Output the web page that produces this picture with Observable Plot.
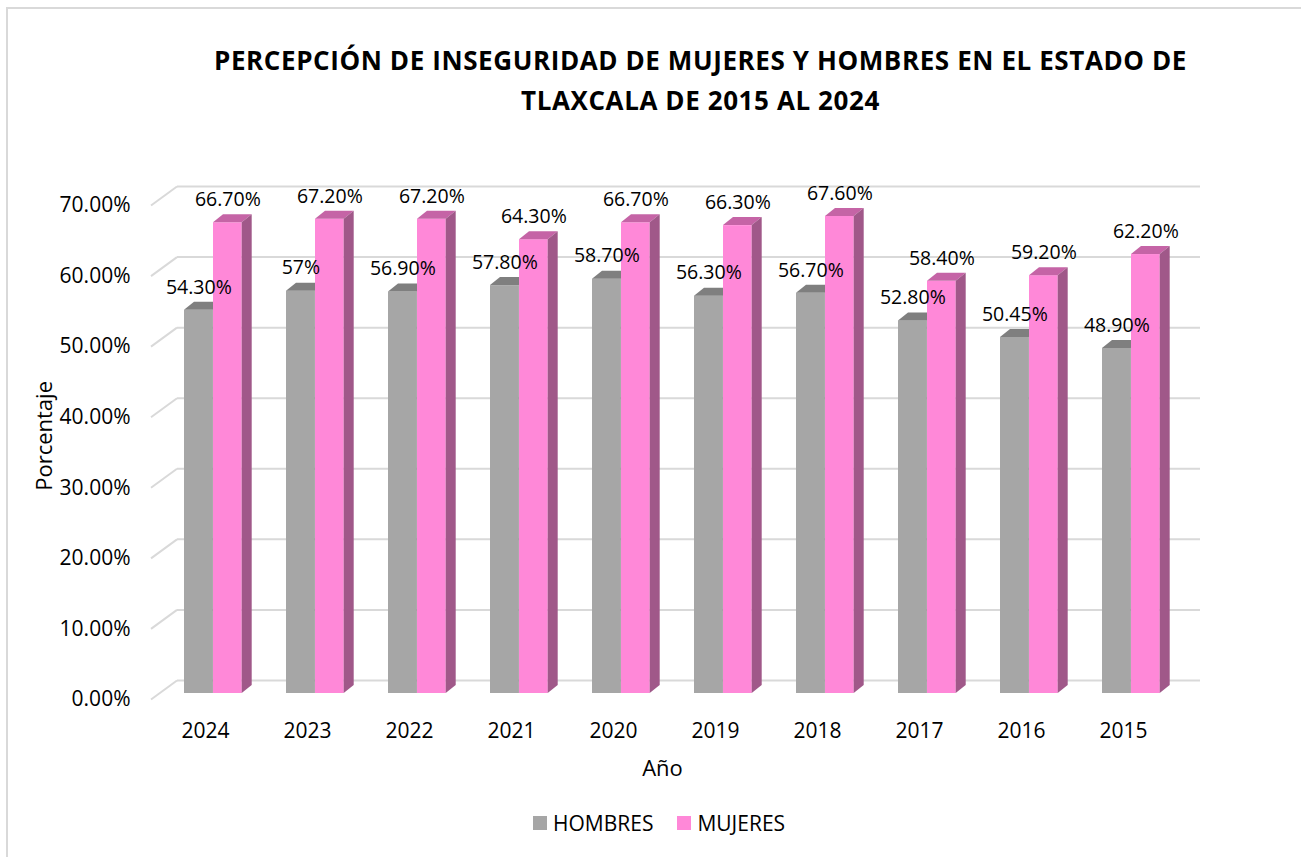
<!DOCTYPE html>
<html>
<head>
<meta charset="utf-8">
<script src="https://cdn.jsdelivr.net/npm/d3@7"></script>
<script src="https://cdn.jsdelivr.net/npm/@observablehq/plot@0.6"></script>
<style>
  body { margin: 0; background: #fff; font-family: "Open Sans", sans-serif; }
  #wrap { position: relative; width: 1301px; height: 857px; overflow: hidden; background: #fff; }
  #border { position: absolute; left: 6px; top: 7px; width: 1400px; height: 1000px; border-left: 2px solid #d9d9d9; border-top: 2px solid #d9d9d9; }
  #title { position: absolute; left: 0; width: 1401px; top: 40px; text-align: center; font-weight: bold; font-size: 26px; letter-spacing: 0.6px; line-height: 40px; color: #000; }
  #chart { position: absolute; left: 0; top: 0; }
  #legend { position: absolute; top: 809px; left: 533px; font-size: 21px; color: #000; display: flex; align-items: center; }
  #legend .sw { width: 14px; height: 14px; display: inline-block; margin-right: 6px; }
  #legend .item { display: flex; align-items: center; margin-right: 24px; }
</style>
</head>
<body>
<div id="wrap">
  <div id="border"></div>
  <div id="chart"></div>
  <div id="title">PERCEPCIÓN DE INSEGURIDAD DE MUJERES Y HOMBRES EN EL ESTADO DE<br>TLAXCALA DE 2015 AL 2024</div>
  <div id="legend"></div>
</div>
<script>
const years = ["2024","2023","2022","2021","2020","2019","2018","2017","2016","2015"];
const hombres = [0.543, 0.57, 0.569, 0.578, 0.587, 0.563, 0.567, 0.528, 0.5045, 0.489];
const mujeres = [0.667, 0.672, 0.672, 0.643, 0.667, 0.663, 0.676, 0.584, 0.592, 0.622];
const hombresLabels = ["54.30%","57%","56.90%","57.80%","58.70%","56.30%","56.70%","52.80%","50.45%","48.90%"];
const mujeresLabels = ["66.70%","67.20%","67.20%","64.30%","66.70%","66.30%","67.60%","58.40%","59.20%","62.20%"];
const yTicks = [0, 0.1, 0.2, 0.3, 0.4, 0.5, 0.6, 0.7];
const series = ["HOMBRES", "MUJERES"];
const colors = { HOMBRES: "#a6a6a6", MUJERES: "#ff88d8" };
const topColors = { HOMBRES: "#7f7f7f", MUJERES: "#c564a6" };
const sideColors = { HOMBRES: "#7a7a7a", MUJERES: "#a05889" };

const hData = years.map((y, i) => ({ year: y, value: hombres[i], label: hombresLabels[i] }));
const mData = years.map((y, i) => ({ year: y, value: mujeres[i], label: mujeresLabels[i] }));

const SVGNS = "http://www.w3.org/2000/svg";
const DX = 10, DY = -8;

function faces3d(topColor, sideColor) {
  return function (index, scales, values, dimensions, context, next) {
    const g = next(index, scales, values, dimensions, context);
    const rects = Array.from(g.querySelectorAll("rect"));
    for (const r of rects) {
      const x = +r.getAttribute("x"), y = +r.getAttribute("y");
      const w = +r.getAttribute("width"), h = +r.getAttribute("height");
      const top = document.createElementNS(SVGNS, "polygon");
      top.setAttribute("points", `${x},${y} ${x + DX},${y + DY} ${x + w + DX},${y + DY} ${x + w},${y}`);
      top.setAttribute("fill", topColor);
      const side = document.createElementNS(SVGNS, "polygon");
      side.setAttribute("points", `${x + w},${y} ${x + w + DX},${y + DY} ${x + w + DX},${y + h + DY} ${x + w},${y + h}`);
      side.setAttribute("fill", sideColor);
      r.parentNode.appendChild(top);
      r.parentNode.appendChild(side);
    }
    return g;
  };
}

function wallGrid(index, scales, values, dimensions, context, next) {
  const g = next(index, scales, values, dimensions, context);
  const lines = Array.from(g.querySelectorAll("line"));
  for (const l of lines) {
    const x1 = +l.getAttribute("x1");
    const y = +l.getAttribute("y1") - 13;
    l.setAttribute("y1", y);
    l.setAttribute("y2", y);
    const d = document.createElementNS(SVGNS, "line");
    d.setAttribute("x1", x1 - 26);
    d.setAttribute("y1", y + 19);
    d.setAttribute("x2", x1);
    d.setAttribute("y2", y);
    l.parentNode.appendChild(d);
  }
  return g;
}

const step = (1200 - 177) / years.length;

const chart = Plot.plot({
  width: 1301,
  height: 857,
  marginLeft: 177,
  marginRight: 101,
  marginTop: 199,
  marginBottom: 164,
  style: { fontFamily: "Open Sans, sans-serif", fontSize: "21px", color: "#000", background: "transparent" },
  x: { domain: years, padding: 0, label: null },
  y: { domain: [0, 0.7], label: null },
  marks: [
    Plot.ruleY(yTicks, { stroke: "#d9d9d9", strokeWidth: 2, render: wallGrid }),
    Plot.axisY(yTicks, { tickSize: 0, tickPadding: 47, dy: 6, tickFormat: d3.format(".2%"), fontSize: 21, label: null }),
    Plot.axisX({ tickSize: 0, tickPadding: 30, dx: -25, fontSize: 21, label: null }),
    Plot.barY(hData, { x: "year", y: "value", fill: colors.HOMBRES, insetLeft: 5, insetRight: step - 34, render: faces3d(topColors.HOMBRES, sideColors.HOMBRES) }),
    Plot.barY(mData, { x: "year", y: "value", fill: colors.MUJERES, insetLeft: 34, insetRight: step - 63, render: faces3d(topColors.MUJERES, sideColors.MUJERES) }),
    Plot.text(hData, { x: "year", y: "value", text: "label", dx: 19.5 - step / 2, dy: -23, fontSize: 19.5, fill: "#000" }),
    Plot.text(mData, { x: "year", y: "value", text: "label", dx: 48.5 - step / 2, dy: -23, fontSize: 19.5, fill: "#000" }),
    Plot.text(["Porcentaje"], { frameAnchor: "left", textAnchor: "middle", dx: -133, y: () => 0.365, rotate: -90, fontSize: 22, fill: "#000" }),
    Plot.text(["Año"], { frameAnchor: "bottom", dy: 82, x: () => years[4], dx: 24, fontSize: 22, fill: "#000" })
  ]
});
document.getElementById("chart").appendChild(chart);

const legend = document.getElementById("legend");
for (const s of series) {
  const item = document.createElement("span");
  item.className = "item";
  const sw = document.createElement("span");
  sw.className = "sw";
  sw.style.background = colors[s];
  item.appendChild(sw);
  item.appendChild(document.createTextNode(s));
  legend.appendChild(item);
}
</script>
</body>
</html>
